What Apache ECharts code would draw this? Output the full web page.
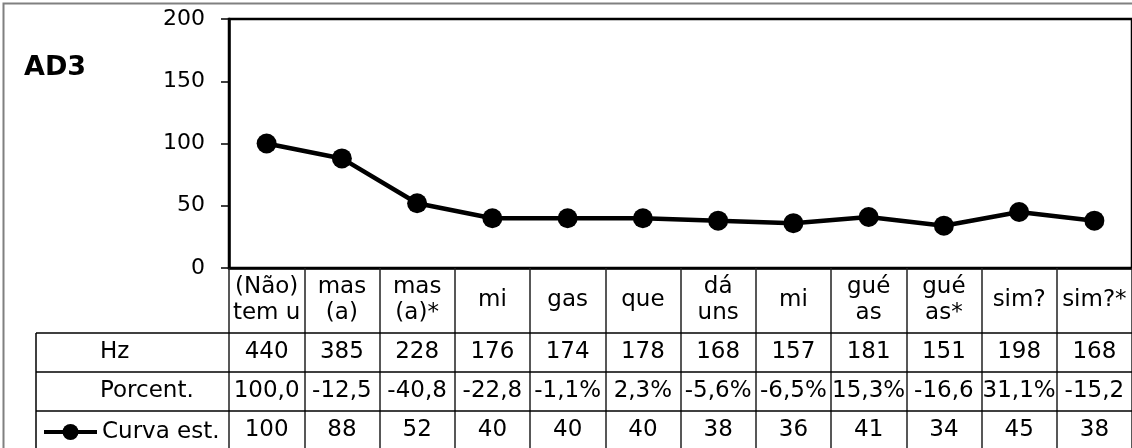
<!DOCTYPE html>
<html>
<head>
<meta charset="utf-8">
<script src="https://cdn.jsdelivr.net/npm/echarts@6/dist/echarts.min.js"></script>
<style>
  html, body { margin: 0; padding: 0; background: #fff; }
  #chart { width: 1132px; height: 448px; }
</style>
</head>
<body>
<div id="chart"></div>
<script>
// ---- data ----
const chartTitle = 'AD3';
const categories = ['(Não)\ntem u', 'mas\n(a)', 'mas\n(a)*', 'mi', 'gas', 'que', 'dá\nuns', 'mi', 'gué\nas', 'gué\nas*', 'sim?', 'sim?*'];
const hzValues = [440, 385, 228, 176, 174, 178, 168, 157, 181, 151, 198, 168];
const pctLabels = ['100,0', '-12,5', '-40,8', '-22,8', '-1,1%', '2,3%', '-5,6%', '-6,5%', '15,3%', '-16,6', '31,1%', '-15,2'];
const curvaValues = [100, 88, 52, 40, 40, 40, 38, 36, 41, 34, 45, 38];
const rowNames = ['Hz', 'Porcent.', 'Curva est.'];
const yTicks = { min: 0, max: 200, interval: 50 };

// ---- layout ----
const FONT = 'DejaVu Sans';
const FS = 23;
const G = { left: 229, top: 19, width: 905, height: 249 };
const axisY = G.top + G.height;          // 268
const headerBottom = 333;
const rowH = 39;
const rowTops = [headerBottom, headerBottom + rowH, headerBottom + 2 * rowH];
const tableLeft = 36;
const tableRight = G.left + G.width;
const rowCenter = i => rowTops[i] + rowH / 2;

const chart = echarts.init(document.getElementById('chart'), null, { renderer: 'canvas' });

function valueAxis(arr, rowIdx) {
  return {
    type: 'category',
    gridIndex: 0,
    position: 'bottom',
    data: categories,
    boundaryGap: true,
    axisLine: { show: false },
    axisTick: { show: false },
    splitLine: { show: false },
    axisLabel: {
      interval: 0,
      margin: rowCenter(rowIdx) - axisY,
      verticalAlign: 'middle',
      fontFamily: FONT,
      fontSize: FS,
      color: '#000',
      formatter: (v, i) => String(arr[i])
    }
  };
}

const option = {
  animation: false,
  backgroundColor: '#fff',
  grid: {
    left: G.left, top: G.top, width: G.width, height: G.height,
    show: true, borderColor: '#000', borderWidth: 2.5, containLabel: false
  },
  legend: {
    left: 42,
    top: rowCenter(2) - 10,
    padding: 0,
    itemWidth: 53,
    itemHeight: 20,
    data: [rowNames[2]],
    lineStyle: { width: 4, color: '#000' },
    itemStyle: { color: '#000' },
    textStyle: { fontFamily: FONT, fontSize: FS, color: '#000' },
    selectedMode: false
  },
  xAxis: [
    {
      type: 'category',
      gridIndex: 0,
      position: 'bottom',
      data: categories,
      boundaryGap: true,
      axisLine: { show: true, lineStyle: { color: '#000', width: 2.5 } },
      axisTick: {
        show: true, interval: 0, inside: false,
        length: 448 - axisY,
        lineStyle: { color: '#222', width: 1.5 }
      },
      splitLine: { show: false },
      axisLabel: {
        interval: 0,
        margin: (headerBottom + axisY) / 2 - axisY,
        verticalAlign: 'middle',
        fontFamily: FONT,
        fontSize: FS,
        lineHeight: 26,
        color: '#000'
      }
    },
    valueAxis(hzValues, 0),
    valueAxis(pctLabels, 1),
    valueAxis(curvaValues, 2)
  ],
  yAxis: {
    type: 'value',
    min: yTicks.min, max: yTicks.max, interval: yTicks.interval,
    axisLine: { show: true, lineStyle: { color: '#000', width: 2.5 } },
    axisTick: { show: true, inside: false, length: 8, lineStyle: { color: '#000', width: 1.5 } },
    splitLine: { show: false },
    axisLabel: { margin: 24, fontFamily: FONT, fontSize: 22, color: '#000' }
  },
  series: [{
    name: rowNames[2],
    type: 'line',
    xAxisIndex: 0,
    data: curvaValues,
    symbol: 'circle',
    symbolSize: 20,
    color: '#000',
    itemStyle: { color: '#000' },
    lineStyle: { color: '#000', width: 4.5 },
    label: { show: false }
  }],
  graphic: [
    { type: 'rect', silent: true, z: 0,
      shape: { x: 3.5, y: 3.5, width: 1300, height: 700 },
      style: { fill: 'none', stroke: '#808080', lineWidth: 2 } },
    { type: 'text', left: 24, top: 54, z: 10,
      style: { text: chartTitle, font: 'bold 27px "' + FONT + '"', fill: '#000' } },
    ...rowTops.map(y => ({ type: 'line', silent: true, z: 5,
      shape: { x1: tableLeft, y1: y, x2: tableRight, y2: y },
      style: { stroke: '#000', lineWidth: 1.5 } })),
    { type: 'line', silent: true, z: 5,
      shape: { x1: tableLeft, y1: headerBottom, x2: tableLeft, y2: 460 },
      style: { stroke: '#000', lineWidth: 1.5 } },
    { type: 'text', x: 100, y: rowCenter(0), z: 10,
      style: { text: rowNames[0], fontFamily: FONT, fontSize: FS, fill: '#000', verticalAlign: 'middle', align: 'left' } },
    { type: 'text', x: 100, y: rowCenter(1), z: 10,
      style: { text: rowNames[1], fontFamily: FONT, fontSize: FS, fill: '#000', verticalAlign: 'middle', align: 'left' } }
  ]
};

chart.setOption(option);
</script>
</body>
</html>
